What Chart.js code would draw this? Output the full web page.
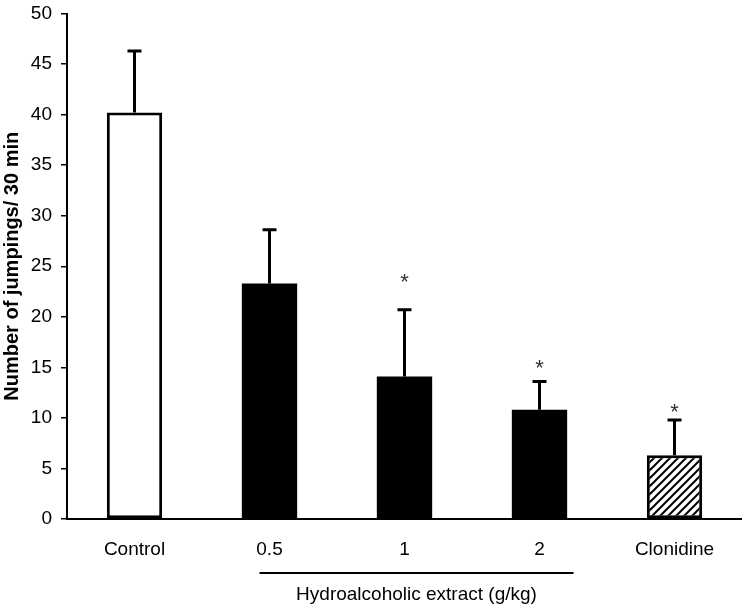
<!DOCTYPE html>
<html>
<head>
<meta charset="utf-8">
<script src="https://cdn.jsdelivr.net/npm/chart.js@4/dist/chart.umd.min.js"></script>
<style>
  html, body { margin: 0; padding: 0; background: #fff; }
  #wrap { width: 742px; height: 609px; }
</style>
</head>
<body>
<div id="wrap"><canvas id="jumpChart"></canvas></div>
<script>
// values
const groups = ['Control', '0.5', '1', '2', 'Clonidine'];
const means = [40.2, 23.3, 14.1, 10.8, 6.3];
const sems = [6.1, 5.3, 6.6, 2.8, 3.5];
const starLevels = [null, null, 23.8, 15.3, 11.0];   // where the "*" sits
const yTicks = [0, 5, 10, 15, 20, 25, 30, 35, 40, 45, 50];
const groupLabel = 'Hydroalcoholic extract (g/kg)';

const FONT = 'Arial, "Liberation Sans", sans-serif';

// diagonal hatch for the clonidine bar
function hatch() {
    const c = document.createElement('canvas');
    c.width = 8; c.height = 8;
    const g = c.getContext('2d');
    g.fillStyle = '#fff';
    g.fillRect(0, 0, 8, 8);
    g.strokeStyle = '#000';
    g.lineWidth = 2;
    g.beginPath();
    g.moveTo(0, 8); g.lineTo(8, 0);
    g.moveTo(-2, 2); g.lineTo(2, -2);
    g.moveTo(6, 10); g.lineTo(10, 6);
    g.stroke();
    return g.createPattern(c, 'repeat');
}

const errorBars = {
    id: 'errorBars',
    afterDatasetsDraw(chart) {
        const ctx = chart.ctx;
        const y = chart.scales.y;
        const meta = chart.getDatasetMeta(0);
        ctx.save();
        ctx.strokeStyle = '#000';
        ctx.lineWidth = 3;
        meta.data.forEach((bar, i) => {
            const top = y.getPixelForValue(means[i] + sems[i]);
            ctx.beginPath();
            ctx.moveTo(bar.x, y.getPixelForValue(means[i]));
            ctx.lineTo(bar.x, top);
            ctx.moveTo(bar.x - 7, top);
            ctx.lineTo(bar.x + 7, top);
            ctx.stroke();
            if (starLevels[i] != null) {
                ctx.fillStyle = '#333';
                ctx.font = '22px ' + FONT;
                ctx.textAlign = 'center';
                ctx.textBaseline = 'middle';
                ctx.fillText('*', bar.x, y.getPixelForValue(starLevels[i]) + 5);
            }
        });
        ctx.restore();
    }
};

// bracket under the three extract doses
const groupBracket = {
    id: 'groupBracket',
    afterDraw(chart) {
        const ctx = chart.ctx;
        const x = chart.scales.x;
        const base = chart.chartArea.bottom;
        const x0 = x.getPixelForValue(1) - 10;
        const x1 = x.getPixelForValue(3) + 34;
        ctx.save();
        ctx.strokeStyle = '#000';
        ctx.lineWidth = 2;
        ctx.beginPath();
        ctx.moveTo(x0, base + 54);
        ctx.lineTo(x1, base + 54);
        ctx.stroke();
        ctx.fillStyle = '#000';
        ctx.font = '19px ' + FONT;
        ctx.textAlign = 'center';
        ctx.textBaseline = 'middle';
        ctx.fillText(groupLabel, (x0 + x1) / 2, base + 76);
        ctx.restore();
    }
};

new Chart(document.getElementById('jumpChart'), {
    type: 'bar',
    data: {
        labels: groups,
        datasets: [{
            data: means,
            backgroundColor: ['#fff', '#000', '#000', '#000', hatch()],
            borderColor: '#000',
            borderWidth: [3, 0, 0, 0, 3],
            borderSkipped: false,
            barPercentage: 0.41,
            categoryPercentage: 1
        }]
    },
    options: {
        responsive: true,
        maintainAspectRatio: false,
        animation: false,
        layout: { padding: { top: 13.5, right: 0, left: 0, bottom: 0 } },
        plugins: {
            legend: { display: false },
            tooltip: { enabled: false }
        },
        scales: {
            x: {
                grid: { display: false, drawTicks: false },
                border: { display: true, color: '#000', width: 2 },
                ticks: { color: '#000', padding: 19, font: { family: FONT, size: 19 } },
                afterFit(scale) {
                    scale.height = 90;
                    scale.paddingLeft = 0;
                    scale.paddingRight = 0;
                }
            },
            y: {
                min: 0,
                max: 50,
                afterBuildTicks(scale) { scale.ticks = yTicks.map(v => ({ value: v })); },
                grid: { drawOnChartArea: false, drawTicks: true, tickLength: 6, color: '#000', lineWidth: 1.5 },
                border: { display: true, color: '#000', width: 2 },
                ticks: { color: '#000', padding: 9, font: { family: FONT, size: 19 } },
                title: {
                    display: true,
                    text: 'Number of jumpings/ 30 min',
                    color: '#000',
                    padding: 0,
                    font: { family: FONT, size: 20, weight: 'bold' }
                },
                afterFit(scale) {
                    scale.width = 67;
                    scale.paddingTop = 0;
                    scale.paddingBottom = 0;
                }
            }
        }
    },
    plugins: [errorBars, groupBracket]
});
</script>
</body>
</html>
